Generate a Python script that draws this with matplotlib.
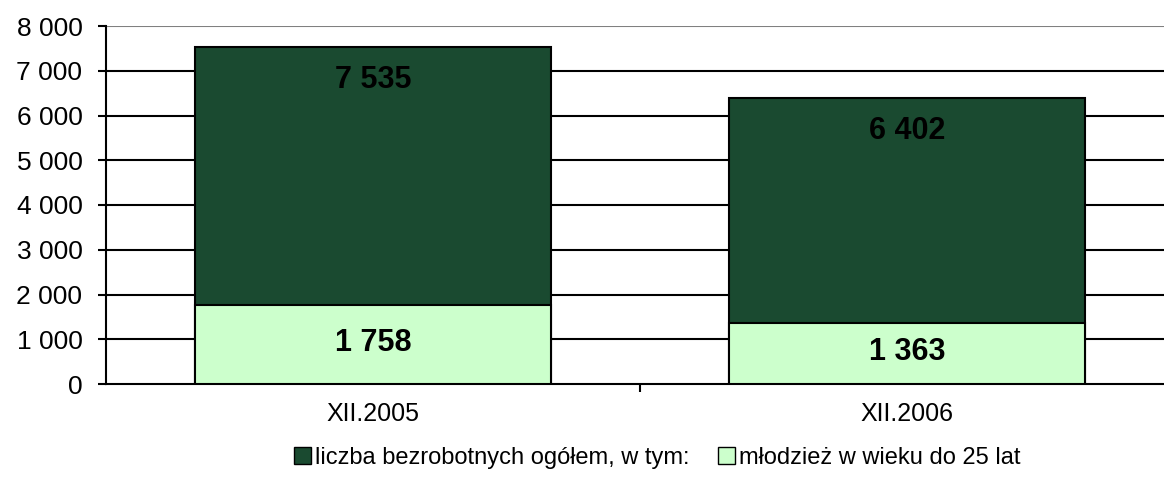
import matplotlib
matplotlib.use('Agg')
import matplotlib.pyplot as plt
from matplotlib.patches import Patch

plt.rcParams['font.family'] = ['Liberation Sans', 'DejaVu Sans']

categories = ['XII.2005', 'XII.2006']
total = [7535, 6402]
youth = [1758, 1363]
series_names = ['liczba bezrobotnych ogółem, w tym:', 'młodzież w wieku do 25 lat']
dark = '#1a4a30'
light = '#ccffcc'

def fmt(v):
    return f'{v:,}'.replace(',', ' ')

fig = plt.figure(figsize=(11.64, 4.79), dpi=100)
# plot area runs a bit past the right edge of the picture
ax = fig.add_axes([106 / 1164, 1 - 384 / 479, 1068 / 1164, 358 / 479])

x = list(range(len(categories)))
w = 0.668
ax.bar(x, total, width=w, color=dark, edgecolor='black', linewidth=1.5, zorder=3)
ax.bar(x, youth, width=w, color=light, edgecolor='black', linewidth=1.5, zorder=4)

for i in x:
    ax.text(i, total[i] - 740, fmt(total[i]), ha='center', va='center',
            fontsize=22, fontweight='bold', zorder=5)
    ax.text(i, youth[i] / 2 + 40, fmt(youth[i]), ha='center', va='center',
            fontsize=22, fontweight='bold', zorder=5)

ax.set_xlim(-0.5, 1.5)
ax.set_ylim(0, 8000)
yt = list(range(0, 8001, 1000))
ax.set_yticks(yt)
ax.set_yticklabels([fmt(v) for v in yt], fontsize=19)
ax.set_xticks(x)
ax.set_xticklabels(categories, fontsize=18)
ax.tick_params(axis='x', length=0, pad=13)
ax.tick_params(axis='y', length=6, width=1.5, pad=11)
ax.set_xticks([0.5], minor=True)
ax.tick_params(axis='x', which='minor', length=6, width=1.5)

for v in yt[1:-1]:
    ax.axhline(v, color='black', linewidth=1.5, zorder=1)
ax.axhline(8000, color='#808080', linewidth=1.5, zorder=1)

for s in ['top', 'right']:
    ax.spines[s].set_visible(False)
for s in ['left', 'bottom']:
    ax.spines[s].set_linewidth(1.5)

handles = [Patch(facecolor=dark, edgecolor='black'), Patch(facecolor=light, edgecolor='black')]
fig.legend(handles, series_names, loc='center', bbox_to_anchor=(657 / 1164, 1 - 458 / 479),
           ncol=2, frameon=False, fontsize=17, handlelength=0.75, handleheight=0.75,
           handletextpad=0.15, columnspacing=1.2, borderpad=0)

fig.savefig('out.png', dpi=100)
